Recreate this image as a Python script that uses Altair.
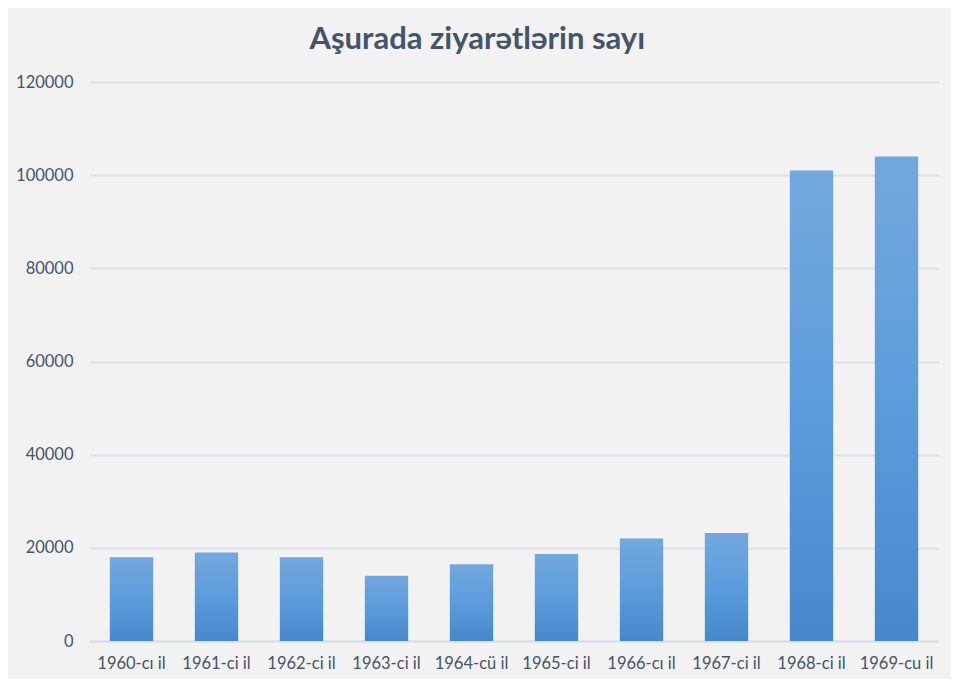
import altair as alt
import pandas as pd

years = ["1960-cı il", "1961-ci il", "1962-ci il", "1963-ci il", "1964-cü il",
         "1965-ci il", "1966-cı il", "1967-ci il", "1968-ci il", "1969-cu il"]
visits = [18000, 19000, 18000, 14000, 16500, 18700, 22000, 23200, 101000, 104000]
y_ticks = [0, 20000, 40000, 60000, 80000, 100000, 120000]

df = pd.DataFrame({"year": years, "visits": visits})

FONT = "Lato"
TXT = "#44546a"

grad = alt.Gradient(
    gradient="linear",
    stops=[alt.GradientStop(color="#73a8dd", offset=0),
           alt.GradientStop(color="#5b9cdc", offset=0.5),
           alt.GradientStop(color="#4688cb", offset=1)],
    x1=0, x2=0, y1=0, y2=1,
)

chart = alt.Chart(df).mark_bar(color=grad).encode(
    x=alt.X("year:N", sort=years, title=None,
            scale=alt.Scale(paddingInner=0.49, paddingOuter=0.245),
            axis=alt.Axis(labelAngle=0, labelFont=FONT, labelFontSize=16.5,
                          labelColor=TXT, ticks=False, domain=True,
                          domainColor="#d9dde3", domainWidth=2,
                          labelPadding=14)),
    y=alt.Y("visits:Q", title=None,
            scale=alt.Scale(domain=[0, 120000]),
            axis=alt.Axis(values=y_ticks, format="d", labelFont=FONT,
                          labelFontSize=16.5, labelColor=TXT, ticks=False,
                          domain=False, gridColor="#dde1e7", gridWidth=2,
                          labelPadding=16)),
).properties(
    width=850,
    height=559,
    title=alt.TitleParams("Aşurada ziyarətlərin sayı", font=FONT, fontSize=31,
                          fontWeight="bold", color=TXT, anchor="middle",
                          frame="bounds", offset=18),
    background="#f2f2f2",
    autosize=alt.AutoSizeParams(type="none"),
    padding={"left": 81, "top": 74, "right": 12, "bottom": 38},
).configure_view(stroke=None)

chart.save("out.html", embed_options={"renderer": "svg", "actions": False})
